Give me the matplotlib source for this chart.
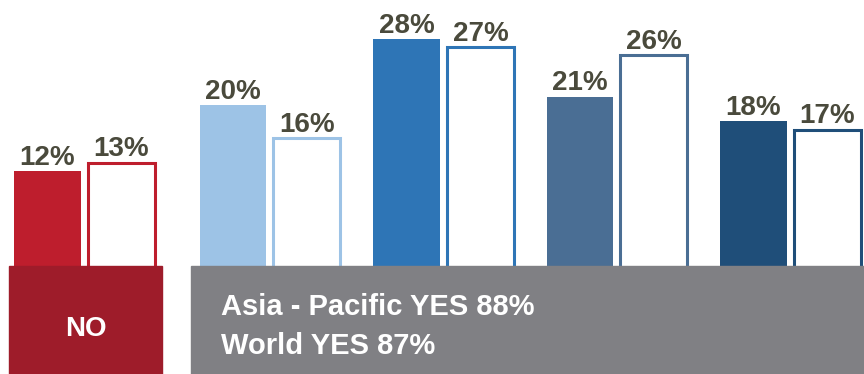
import matplotlib.pyplot as plt
from matplotlib.patches import Rectangle
import numpy as np

plt.rcParams['font.family'] = ['Liberation Sans', 'DejaVu Sans']

# Asia-Pacific (filled) vs World (outlined), one pair per group
asia_pacific = [12, 20, 28, 21, 18]
world = [13, 16, 27, 26, 17]
colors = ['#BE1E2D', '#9DC3E6', '#2E75B6', '#4A6E94', '#1F4E79']
no_label = 'NO'
yes_lines = ['Asia - Pacific YES 88%', 'World YES 87%']

label_color = '#4A4A3C'

fig = plt.figure(figsize=(8.64, 3.74), dpi=100)
ax = fig.add_axes([0, 0, 1, 1])

# group positions; the "NO" group sits a little further left
x = np.arange(len(asia_pacific), dtype=float)
x[0] -= 0.07
w = 0.386
off = 0.213

ax.bar(x - off, asia_pacific, w, color=colors, zorder=2)
ax.bar(x + off, world, w, color='white', edgecolor=colors, linewidth=2.2, zorder=2)

for xi, a, b in zip(x, asia_pacific, world):
    ax.text(xi - off, a + 0.75, f'{a}%', ha='center', va='baseline',
            fontsize=20, fontweight='bold', color=label_color)
    ax.text(xi + off, b + 0.75, f'{b}%', ha='center', va='baseline',
            fontsize=20, fontweight='bold', color=label_color)

ax.set_xlim(-0.556, 4.424)
ax.set_ylim(-12.6, 32.7)
ax.axis('off')

# bands under the bars
band_top = 0.48
ax.add_patch(Rectangle((-0.504, -13), 0.882, 13 + band_top, color='#9E1C2A', zorder=3))
ax.add_patch(Rectangle((0.545, -13), 4.0, 13 + band_top, color='#808084', zorder=3))

ax.text(-0.063, -7.2, no_label, ha='center', va='center', fontsize=20,
        fontweight='bold', color='white', zorder=4)
ax.text(0.718, -5.5, yes_lines[0], ha='left', va='baseline', fontsize=21,
        fontweight='bold', color='white', zorder=4)
ax.text(0.718, -10.2, yes_lines[1], ha='left', va='baseline', fontsize=21,
        fontweight='bold', color='white', zorder=4)

fig.savefig('out.png', dpi=100)
